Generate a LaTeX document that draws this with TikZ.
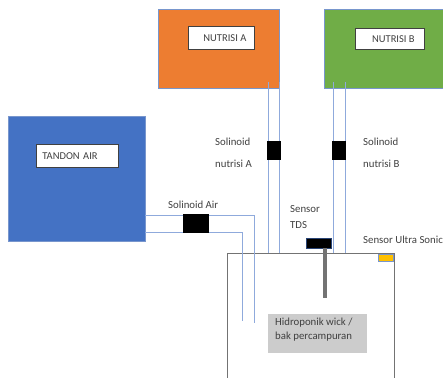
\documentclass[tikz,border=0pt]{standalone}
\usepackage{fontspec}
\setmainfont{Carlito}
\usetikzlibrary{positioning}
\definecolor{tankblue}{RGB}{68,114,196}
\definecolor{nutorange}{RGB}{237,125,49}
\definecolor{nutgreen}{RGB}{112,173,71}
\definecolor{edgeblue}{RGB}{120,150,205}
\definecolor{pipeblue}{RGB}{143,170,220}
\definecolor{ultrayellow}{RGB}{255,192,0}
\definecolor{labelgrey}{RGB}{64,64,64}
\tikzset{
  wadah/.style={draw=edgeblue, line width=0.6pt, anchor=north west, inner sep=0pt},
  tag/.style={draw=labelgrey, line width=0.8pt, fill=white, anchor=north west, inner sep=0pt,
    text=labelgrey, font=\fontsize{10.5}{12}\selectfont},
  note/.style={text=labelgrey, font=\fontsize{10.8}{12}\selectfont, anchor=west, inner sep=0pt},
  pipe/.style={draw=pipeblue, line width=0.8pt},
  valve/.style={fill=black, draw=black, inner sep=0pt}
}
\begin{document}
\begin{tikzpicture}[x=1pt,y=-1pt]
  \useasboundingbox (0,0) rectangle (443,377);
  \clip (0,0) rectangle (443,377);
  % tanks
  \node [wadah, fill=nutorange, minimum width=121, minimum height=79] (nutA) at (158,9) {};
  \node [wadah, fill=nutgreen, minimum width=125, minimum height=79] (nutB) at (324,9) {};
  \node [wadah, fill=tankblue, minimum width=137, minimum height=125] (tandon) at (8,116) {};
  \node [wadah, draw=black!55, fill=white, minimum width=167, minimum height=130] (bak) at (227,253) {};
  % labels inside the tanks
  \node [tag, minimum width=66, minimum height=23] (tagA) at (188,26) {\hspace*{7pt}NUTRISI A\hfill};
  \node [tag, minimum width=69, minimum height=21] (tagB) at (355,28) {\hspace*{7pt}NUTRISI B\hfill};
  \node [tag, minimum width=82, minimum height=23, text width=82, align=left] (tagT) at (36,144) {\hspace*{6pt}TANDON AIR};
  \node [fill=black!20, anchor=north west, minimum width=99, minimum height=39, inner sep=0pt] (tagBak) at (268,314) {};
  \node [note] (bak1) at (275,323) {Hidroponik wick /};
  \node [note, below=4pt of bak1.south west, anchor=north west] (bak2) {bak percampuran};
  % pipes
  \coordinate (a1) at (268,82);
  \coordinate (a2) at (279,82);
  \coordinate (b1) at (333,82);
  \coordinate (b2) at (345,82);
  \coordinate (t1) at (145,215);
  \coordinate (t2) at (145,232);
  \draw [pipe] (a1) -- (a1 |- bak.north);
  \draw [pipe] (a2) -- (a2 |- bak.north);
  \draw [pipe] (b1) -- (b1 |- bak.north);
  \draw [pipe] (b2) -- (b2 |- bak.north);
  \draw [pipe] (t1) -- (254,215) -- (254,323);
  \draw [pipe] (t2) -- (242,232) -- (242,321);
  % solenoids
  \node [valve, minimum width=25, minimum height=18] (valveAir) at (195.5,223) {};
  \node [valve, minimum width=13, minimum height=18] (valveA) at (273.5,150) {};
  \node [valve, minimum width=13, minimum height=18] (valveB) at (339,150) {};
  % sensors
  \node [valve, draw=tankblue!60!black, minimum width=25, minimum height=10] (tds) at (318.5,243) {};
  \draw [black!55, line width=3.5pt] (tds.south -| 325,0) -- (325,298);
  \node [draw=edgeblue, fill=ultrayellow, anchor=north west, minimum width=15, minimum height=7, inner sep=0pt] (ultra) at (378,254) {};
  % texts
  \node [note] (lblAir) at (168,205) {Solinoid Air};
  \node [note] (lblA1) at (215,142) {Solinoid};
  \node [note] (lblA2) at (215,164) {nutrisi A};
  \node [note] (lblB1) at (363,142) {Solinoid};
  \node [note] (lblB2) at (363,164) {nutrisi B};
  \node [note] (lblTds1) at (290,209) {Sensor};
  \node [note] (lblTds2) at (290,225) {TDS};
  \node [note] (lblUltra) at (363,240) {Sensor Ultra Sonic};
\end{tikzpicture}
\end{document}
